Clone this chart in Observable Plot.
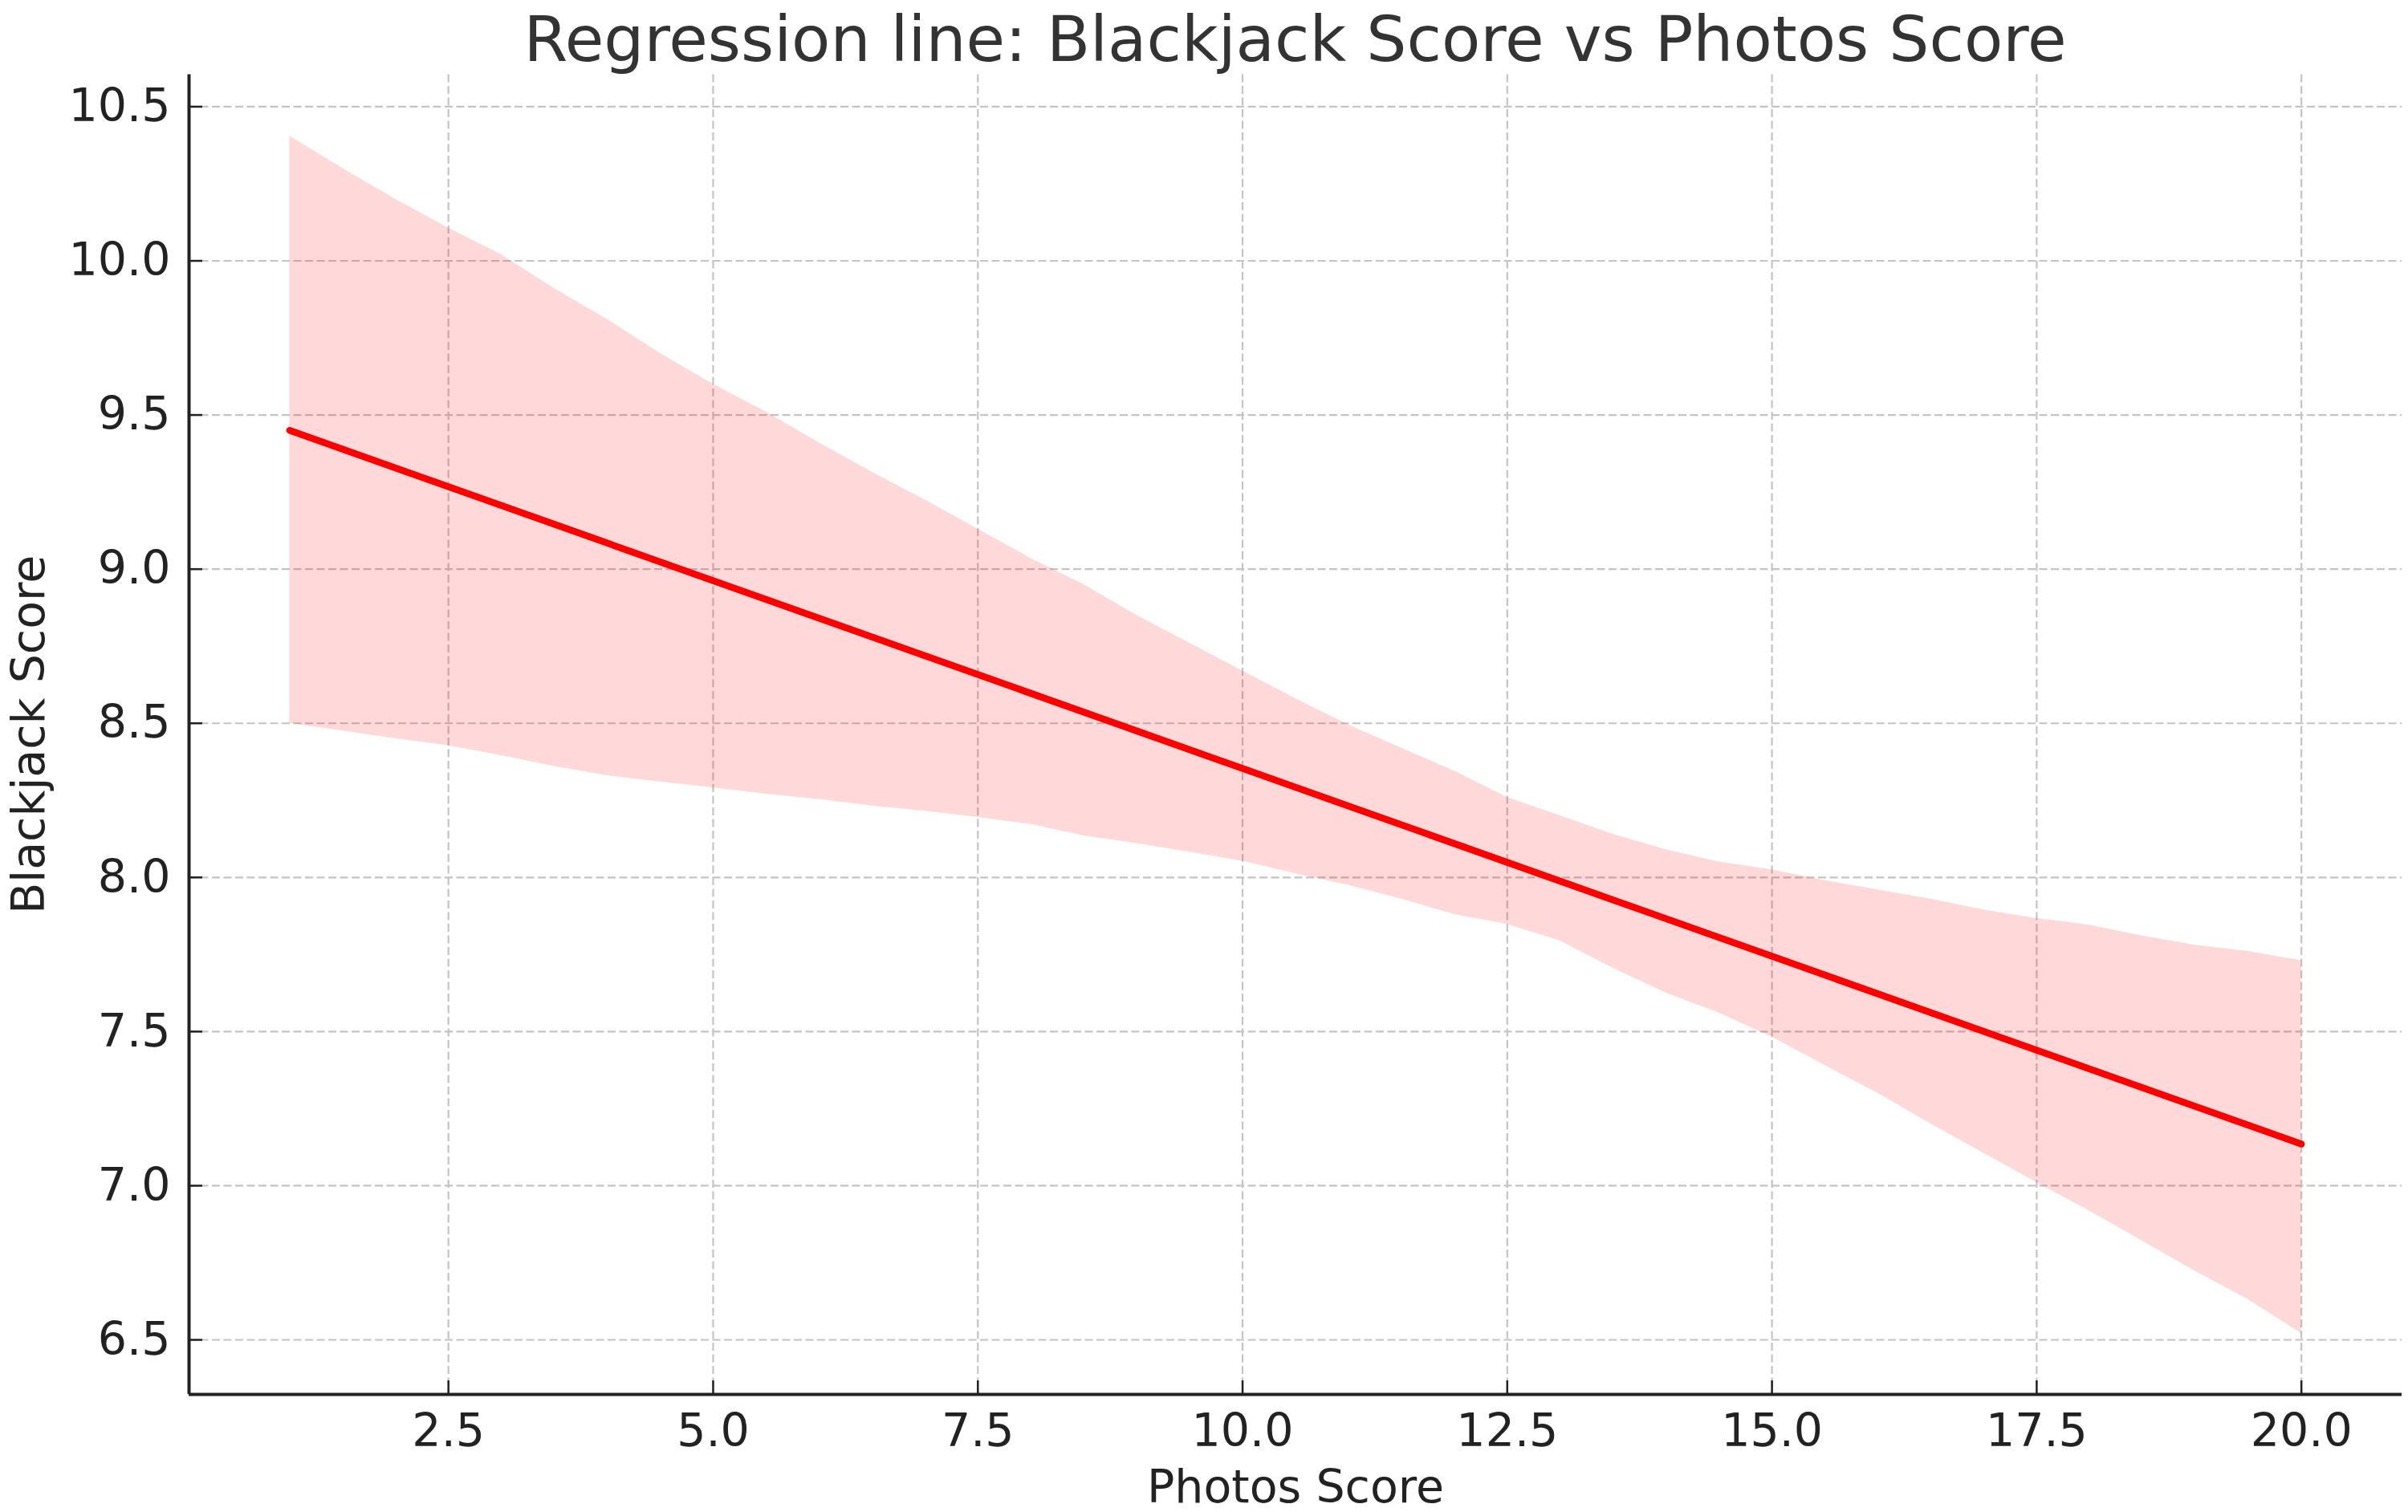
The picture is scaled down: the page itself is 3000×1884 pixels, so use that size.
<!DOCTYPE html>
<html><head><meta charset="utf-8">
<script src="https://cdn.jsdelivr.net/npm/d3@7"></script>
<script src="https://cdn.jsdelivr.net/npm/@observablehq/plot@0.6"></script>
<style>
html,body{margin:0;padding:0;background:#fff;}
#wrap{position:relative;width:3000px;height:1884px;overflow:hidden;}
#title{position:absolute;left:235px;width:2757px;top:9px;text-align:center;font-family:"DejaVu Sans";font-size:79px;line-height:80px;color:#333;white-space:nowrap;}
#chart{position:absolute;left:0;top:0;}
</style></head><body>
<div id="wrap"><div id="chart"></div><div id="title"></div></div>
<script>
const titleText = "Regression line: Blackjack Score vs Photos Score";
const xLabel = "Photos Score";
const yLabel = "Blackjack Score";
const xTicks = [2.5, 5, 7.5, 10, 12.5, 15, 17.5, 20];
const yTicks = [6.5, 7, 7.5, 8, 8.5, 9, 9.5, 10, 10.5];

// fitted regression line (ends)
const lineX = [1, 20];
const lineY = [9.45, 7.135];

// confidence band edges
const bandX = [1, 1.5, 2, 2.5, 3, 3.5, 4, 4.5, 5, 5.5, 6, 6.5, 7, 7.5, 8, 8.5, 9, 9.5, 10, 10.5,
  11, 11.5, 12, 12.5, 13, 13.5, 14, 14.5, 15, 15.5, 16, 16.5, 17, 17.5, 18, 18.5, 19, 19.5, 20];
const bandUpper = [10.405, 10.30, 10.20, 10.106, 10.02, 9.91, 9.81, 9.70, 9.60, 9.51, 9.41, 9.315,
  9.225, 9.13, 9.035, 8.95, 8.85, 8.76, 8.67, 8.58, 8.495, 8.42, 8.345, 8.26, 8.20, 8.14, 8.09,
  8.05, 8.025, 7.99, 7.96, 7.93, 7.895, 7.867, 7.845, 7.81, 7.78, 7.76, 7.73];
const bandLower = [8.50, 8.475, 8.45, 8.427, 8.395, 8.36, 8.33, 8.31, 8.291, 8.27, 8.253, 8.232,
  8.215, 8.195, 8.172, 8.135, 8.11, 8.082, 8.053, 8.012, 7.975, 7.93, 7.88, 7.848, 7.794, 7.705,
  7.625, 7.56, 7.482, 7.39, 7.30, 7.20, 7.105, 7.01, 6.918, 6.82, 6.722, 6.63, 6.52];

const xDomain = [0.05, 20.95];
const yDomain = [6.323, 10.604];

const band = bandX.map((x, i) => ({x, lo: bandLower[i], hi: bandUpper[i]}));
const line = lineX.map((x, i) => ({x, y: lineY[i]}));

document.getElementById("title").textContent = titleText;

const gridStyle = {stroke: "#c4c4c4", strokeOpacity: 1, strokeWidth: 2.2, strokeDasharray: "10,4.5"};

const chart = Plot.plot({
  width: 3000,
  height: 1884,
  marginTop: 92.5,
  marginBottom: 147,
  marginLeft: 235,
  marginRight: 8,
  style: {fontFamily: "DejaVu Sans", fontSize: "57px", color: "#222", background: "#fff"},
  x: {domain: xDomain},
  y: {domain: yDomain},
  marks: [
    Plot.gridX(xTicks, gridStyle),
    Plot.gridY(yTicks, gridStyle),
    Plot.areaY(band, {x: "x", y1: "lo", y2: "hi", fill: "red", fillOpacity: 0.15, curve: "linear"}),
    Plot.lineY(line, {x: "x", y: "y", stroke: "red", strokeWidth: 8.5}),
    Plot.ruleX([xDomain[0]], {stroke: "#222", strokeWidth: 4}),
    Plot.ruleY([yDomain[0]], {stroke: "#222", strokeWidth: 4}),
    Plot.axisX(xTicks, {tickSize: -17, tickPadding: 41, tickFormat: d3.format(".1f"), strokeWidth: 2.5,
      fontSize: 57, label: xLabel, labelAnchor: "center", labelOffset: 134, labelArrow: "none"}),
    Plot.axisY(yTicks, {tickSize: -17, tickPadding: 40, tickFormat: d3.format(".1f"), strokeWidth: 2.5,
      fontSize: 57, label: yLabel, labelAnchor: "center", labelOffset: 221, labelArrow: "none"})
  ]
});
document.getElementById("chart").appendChild(chart);
</script>
</body></html>
